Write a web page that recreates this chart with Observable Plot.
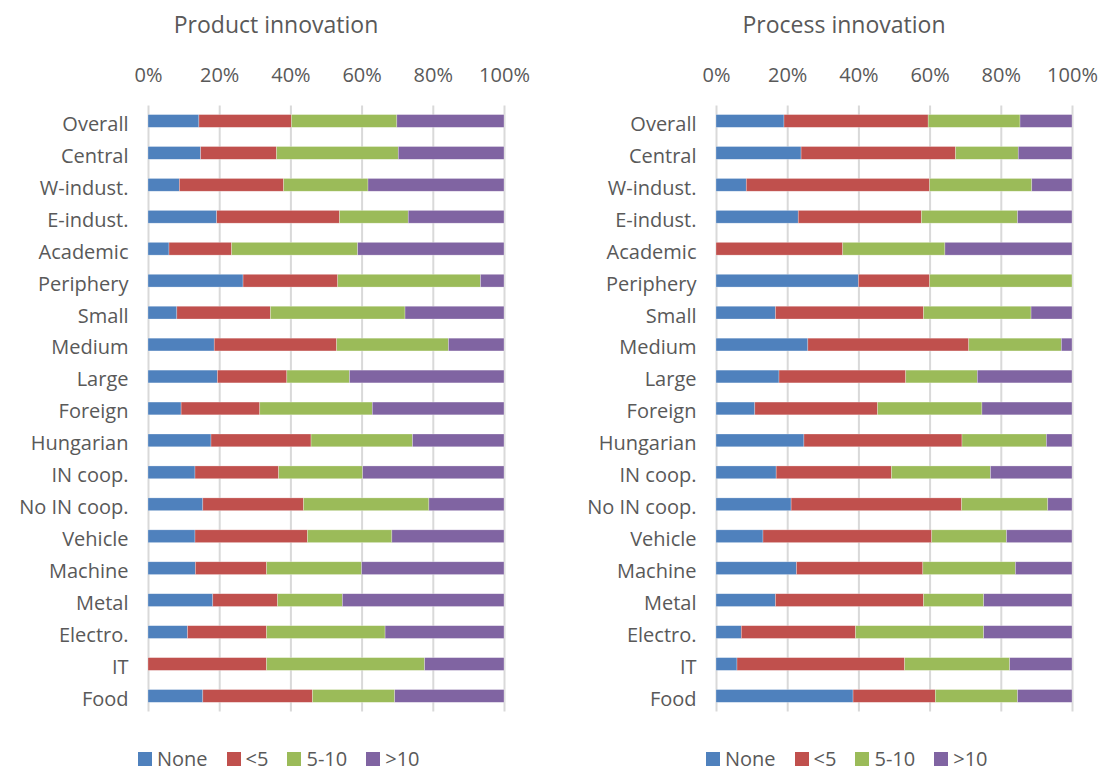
<!DOCTYPE html>
<html>
<head>
<meta charset="utf-8">
<script src="https://cdn.jsdelivr.net/npm/d3@7"></script>
<script src="https://cdn.jsdelivr.net/npm/@observablehq/plot@0.6"></script>
<style>
  body { margin: 0; background: #fff; font-family: "Open Sans", "Noto Sans", sans-serif; color: #595959; }
  #root { position: relative; width: 1101px; height: 773px; overflow: hidden; }
  .panel { position: absolute; top: 0; }
  .title { position: absolute; top: 8px; font-size: 23px; line-height: normal; transform: translateX(-50%); white-space: nowrap; }
  .legend { position: absolute; top: 749px; height: 19px; display: flex; align-items: center; font-size: 20px; line-height: 19px; white-space: nowrap; }
  .legend span.sw { display: inline-block; width: 14px; height: 14px; margin-right: 5px; }
  .legend span.it { display: inline-flex; align-items: center; margin-right: 19px; line-height: 19px; }
</style>
</head>
<body>
<div id="root"></div>
<script>
const categories = ["Overall","Central","W-indust.","E-indust.","Academic","Periphery","Small","Medium","Large","Foreign","Hungarian","IN coop.","No IN coop.","Vehicle","Machine","Metal","Electro.","IT","Food"];
const seriesNames = ["None","<5","5-10",">10"];
const seriesColors = ["#4F81BD","#C0504D","#9BBB59","#8064A2"];
const tickValues = [0,20,40,60,80,100];
const panelTitles = ["Product innovation","Process innovation"];

// Product innovation (% of firms)
const productNone  = [14.3,14.8, 8.8,19.3, 5.9,26.7, 8.1,18.6,19.5, 9.3,17.7,13.2,15.4,13.2,13.3,18.2,11.1, 0.0,15.4];
const productLt5   = [26.0,21.3,29.3,34.5,17.6,26.6,26.3,34.4,19.5,22.1,28.1,23.5,28.3,31.6,20.0,18.2,22.2,33.3,30.8];
const product5to10 = [29.6,34.2,23.7,19.3,35.4,40.1,37.8,31.4,17.6,31.6,28.5,23.6,35.2,23.7,26.7,18.2,33.3,44.4,23.1];
const productGt10  = [30.1,29.7,38.2,26.9,41.1, 6.6,27.8,15.6,43.4,37.0,25.7,39.7,21.1,31.5,40.0,45.4,33.4,22.3,30.7];

// Process innovation (% of firms)
const processNone  = [19.1,23.9, 8.5,23.1, 0.0,40.0,16.7,25.8,17.7,10.9,24.7,16.9,21.1,13.2,22.6,16.7, 7.1, 5.9,38.5];
const processLt5   = [40.5,43.4,51.5,34.6,35.6,20.0,41.6,45.2,35.6,34.5,44.4,32.4,47.9,47.4,35.5,41.6,32.1,47.1,23.1];
const process5to10 = [25.8,17.6,28.7,27.0,28.7,40.0,30.2,26.0,20.1,29.3,23.7,27.8,24.2,21.0,26.0,16.9,36.0,29.5,23.1];
const processGt10  = [14.6,15.1,11.3,15.3,35.7, 0.0,11.5, 3.0,26.6,25.3, 7.2,22.9, 6.8,18.4,15.9,24.8,24.8,17.5,15.3];

function toRows(arrs) {
  const rows = [];
  arrs.forEach((arr, s) => arr.forEach((v, i) => rows.push({cat: categories[i], series: seriesNames[s], value: v})));
  return rows;
}

function makePanel(rows, width, marginRight) {
  return Plot.plot({
    width, height: 730,
    marginLeft: 148, marginRight, marginTop: 95.4, marginBottom: 8.5,
    style: {fontFamily: "'Open Sans', 'Noto Sans', sans-serif", color: "#595959", background: "transparent"},
    x: {domain: [0, 100]},
    y: {domain: categories, padding: 0.6, round: false},
    color: {domain: seriesNames, range: seriesColors},
    marks: [
      Plot.ruleX(tickValues, {stroke: "#d9d9d9", strokeWidth: 2, insetTop: 10, insetBottom: 10}),
      Plot.barX(rows, Plot.stackX({x: "value", y: "cat", fill: "series", order: seriesNames, stroke: "#fff", strokeOpacity: 0.45, strokeWidth: 0.6})),
      Plot.axisX({anchor: "top", ticks: tickValues, tickFormat: d => d + "%", tickSize: 0, tickPadding: 14, fontSize: 20, label: null, fill: "#595959"}),
      Plot.axisY({anchor: "left", tickSize: 0, tickPadding: 20, fontSize: 20, dy: 3, label: null, fill: "#595959"})
    ]
  });
}

const root = document.getElementById("root");
const panels = [
  {rows: toRows([productNone, productLt5, product5to10, productGt10]), left: 0, width: 551, mr: 47, titleX: 276},
  {rows: toRows([processNone, processLt5, process5to10, processGt10]), left: 568, width: 533, mr: 29, titleX: 844}
];
panels.forEach((p, k) => {
  const div = document.createElement("div");
  div.className = "panel";
  div.style.left = p.left + "px";
  div.appendChild(makePanel(p.rows, p.width, p.mr));
  root.appendChild(div);
  const t = document.createElement("div");
  t.className = "title";
  t.style.left = p.titleX + "px";
  t.textContent = panelTitles[k];
  root.appendChild(t);
  const lg = document.createElement("div");
  lg.className = "legend";
  lg.style.left = (p.left + 138) + "px";
  seriesNames.forEach((s, i) => {
    const it = document.createElement("span");
    it.className = "it";
    const sw = document.createElement("span");
    sw.className = "sw";
    sw.style.background = seriesColors[i];
    it.appendChild(sw);
    it.appendChild(document.createTextNode(s));
    lg.appendChild(it);
  });
  root.appendChild(lg);
});
</script>
</body>
</html>
